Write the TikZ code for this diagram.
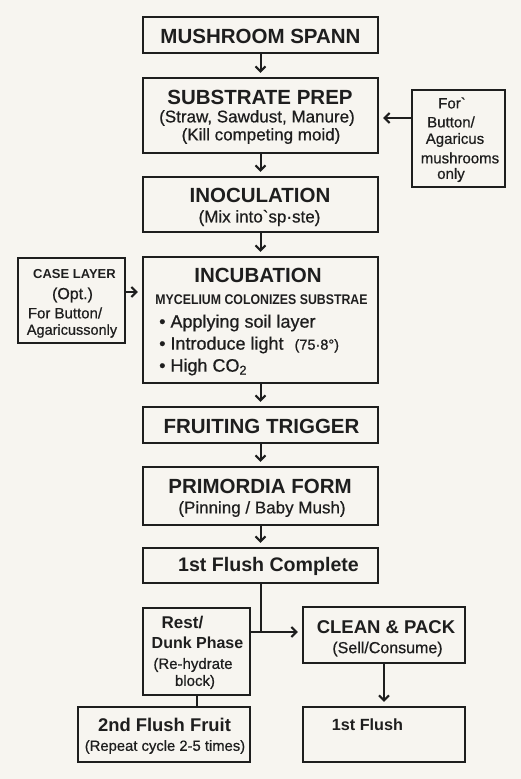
\documentclass[tikz,border=0pt]{standalone}
\usepackage{fontspec}
\usepackage{graphicx}
\setmainfont{Liberation Sans}
\newfontface\medfont{Liberation Sans}[FakeBold=0.6]
\usetikzlibrary{arrows.meta}
\definecolor{bg}{HTML}{F7F5F0}
\definecolor{ink}{HTML}{1E1E1E}
\newcommand\myfs[1]{\fontsize{#1}{#1}\selectfont}
\begin{document}
\begin{tikzpicture}[x=1pt,y=-1pt,
  box/.style={draw=ink, line width=2.4pt, rectangle, inner sep=0pt},
  txt/.style={inner sep=0pt, text=ink},
  ttl/.style={txt, font=\bfseries\myfs{20.5}},
  subt/.style={txt, font=\medfont\myfs{17}},
  small/.style={txt, font=\medfont\myfs{15}},
  arr/.style={draw=ink, line width=2pt, -{Straight Barb[length=5pt,width=10pt]}, shorten >=4pt},
  ln/.style={draw=ink, line width=2pt}]
\fill[bg] (0,0) rectangle (521,779);
\useasboundingbox (0,0) rectangle (521,779);

% boxes
\node[box, minimum width=235pt, minimum height=36pt] (sp) at (260.5,35) {};
\node[box, minimum width=235pt, minimum height=75pt] (prep) at (260.5,115.5) {};
\node[box, minimum width=93pt, minimum height=97pt] (side) at (458.5,138.5) {};
\node[box, minimum width=235pt, minimum height=55pt] (inoc) at (260.5,204.5) {};
\node[box, minimum width=235pt, minimum height=126pt] (inc) at (260.5,320) {};
\node[box, minimum width=107pt, minimum height=85pt] (case) at (71.5,300.5) {};
\node[box, minimum width=235pt, minimum height=36pt] (fruit) at (260.5,425) {};
\node[box, minimum width=235pt, minimum height=58pt] (prim) at (260.5,496) {};
\node[box, minimum width=235pt, minimum height=35pt] (fc) at (260.5,565.5) {};
\node[box, minimum width=107pt, minimum height=87pt] (rest) at (196.5,651.5) {};
\node[box, minimum width=162pt, minimum height=56pt] (clean) at (384,635) {};
\node[box, minimum width=172pt, minimum height=55pt] (ftwo) at (164,734.5) {};
\node[box, minimum width=162pt, minimum height=55pt] (fone) at (384,734.5) {};

% texts
\node[ttl] (spT) at (260.5,36) {MUSHROOM SPANN};

\node[ttl] (prepT) at (260,97) {SUBSTRATE PREP};
\node[subt] (prepA) at (257,118) {(Straw, Sawdust, Manure)};
\node[subt] (prepB) at (261,136) {(Kill competing moid)};

\node[small] (sideA) at (452,103) {For\textasciigrave};
\node[small] (sideB) at (451,122) {Button/};
\node[small] (sideC) at (455,140) {Agaricus};
\node[small] (sideD) at (460,158) {mushrooms};
\node[small] (sideE) at (451,175) {only};

\node[ttl] (inocT) at (260,195) {INOCULATION};
\node[subt] (inocA) at (259.5,218) {(Mix into\textasciigrave sp·ste)};

\node[ttl] (incT) at (258,275) {INCUBATION};
\node[txt, font=\bfseries\myfs{14}] (incA) at (261.5,300) {\scalebox{0.88}[1]{MYCELIUM COLONIZES SUBSTRAE}};
\node[txt, anchor=west, font=\medfont\myfs{18}] (incB) at (159,323) {•\ Applying soil layer};
\node[txt, anchor=west, font=\medfont\myfs{18}] (incC) at (159,345) {•\ Introduce light\hspace{11pt}{\myfs{14.5}(75·8°)}};
\node[txt, anchor=west, font=\medfont\myfs{18}] (incD) at (159,367) {•\ High CO\textsubscript{2}};

\node[txt, font=\bfseries\myfs{13}] (caseT) at (74.5,274) {CASE LAYER};
\node[txt, font=\medfont\myfs{16}] (caseA) at (72.5,295) {(Opt.)};
\node[txt, font=\medfont\myfs{15}] (caseB) at (65,313) {For Button/};
\node[txt, font=\medfont\myfs{14.5}] (caseC) at (72,331) {Agaricussonly};

\node[ttl] (fruitT) at (261.5,426) {FRUITING TRIGGER};

\node[ttl] (primT) at (260,486) {PRIMORDIA FORM};
\node[subt] (primA) at (262,509) {(Pinning / Baby Mush)};

\node[txt, font=\bfseries\myfs{19.6}] (fcT) at (268.5,566) {1st Flush Complete};

\node[txt, font=\bfseries\myfs{17}] (restT) at (182.5,623) {Rest/};
\node[txt, font=\bfseries\myfs{16}] (restA) at (197.5,643) {Dunk Phase};
\node[small] (restB) at (193,665) {(Re-hydrate};
\node[small] (restC) at (195,682) {block)};

\node[txt, font=\bfseries\myfs{18.5}] (cleanT) at (386,627) {CLEAN \& PACK};
\node[txt, font=\medfont\myfs{16}] (cleanA) at (387.5,649) {(Sell/Consume)};

\node[txt, font=\bfseries\myfs{18.4}] (ftwoT) at (164.5,725) {2nd Flush Fruit};
\node[txt, font=\medfont\myfs{14.8}] (ftwoA) at (165,747) {(Repeat cycle 2-5 times)};

\node[txt, font=\bfseries\myfs{16.2}] (foneT) at (367.5,725) {1st Flush};

% connectors
\draw[arr] (sp.south) -- (prep.north);
\draw[arr] (prep.south) -- (inoc.north);
\draw[arr] (inoc.south) -- (inc.north);
\draw[arr] (inc.south) -- (fruit.north);
\draw[arr] (fruit.south) -- (prim.north);
\draw[arr] (prim.south) -- (fc.north);
\draw[arr] (side.west |- 0,118) -- (prep.east |- 0,118);
\draw[arr] (case.east |- 0,292) -- (inc.west |- 0,292);
\coordinate (j) at (260.5,632);
\draw[ln] (fc.south) -- (j);
\draw[arr] (rest.east |- j) -- (clean.west |- j);
\draw[ln] (rest.south) -- (rest.south |- ftwo.north);
\draw[arr] (clean.south) -- (fone.north);
\end{tikzpicture}
\end{document}
